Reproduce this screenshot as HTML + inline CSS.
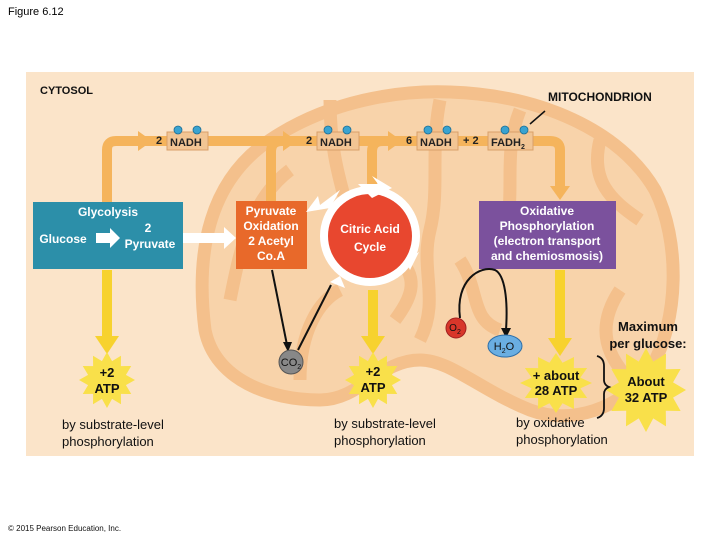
<!DOCTYPE html>
<html><head><meta charset="utf-8"><style>
body{margin:0;background:#fff;width:720px;height:540px;overflow:hidden}
svg{display:block}
text{font-family:"Liberation Sans",Arial,sans-serif}
</style></head><body>
<svg width="720" height="540" viewBox="0 0 720 540">
<text x="8" y="15" font-size="11">Figure 6.12</text>
<rect x="26" y="72" width="668" height="384" fill="#fbe4c9"/>
<g fill="none" stroke="#f4c08c" stroke-width="13" stroke-linejoin="round">
<path d="M205 330 C195 250 210 180 270 140 C330 100 400 90 450 92 C540 95 620 130 655 190 C680 240 680 320 650 370 C620 410 570 425 530 410 C480 390 450 360 420 360 C380 360 360 400 320 400 C270 400 215 380 205 330 Z" fill="#f8d3aa"/>
<path d="M230 300 C240 250 250 200 290 170"/>
<path d="M300 380 C300 330 320 300 340 290"/>
<path d="M330 100 C330 150 340 180 345 200"/>
<path d="M440 100 C430 150 440 190 430 230 C420 270 440 300 420 340"/>
<path d="M520 110 C500 160 520 200 500 250"/>
<path d="M600 140 C590 180 610 200 640 220"/>
<path d="M620 290 C600 320 600 350 630 380"/>
<path d="M460 260 C480 290 470 320 500 330"/>
<path d="M395 320 C410 300 420 280 400 260"/>
</g>
<text x="40" y="94" font-size="11" font-weight="bold" fill="#111">CYTOSOL</text>
<text x="548" y="101" font-size="12" font-weight="bold" fill="#111">MITOCHONDRION</text>
<line x1="530" y1="124" x2="545" y2="111" stroke="#111" stroke-width="1.5"/>
<g fill="none" stroke="#f5b45c" stroke-width="10" stroke-linejoin="round">
<path d="M107 205 L107 150 Q107 141 116 141 L550 141 Q560 141 560 150 L560 190"/>
<path d="M271 202 L271 152 Q271 141 282 141"/>
<path d="M372 186 L372 152 Q372 141 383 141"/>
</g>
<g fill="#f5b45c">
<polygon points="138,131 152,141 138,151"/>
<polygon points="283,131 297,141 283,151"/>
<polygon points="388,131 402,141 388,151"/>
<polygon points="550,186 570,186 560,200"/>
</g>
<g fill="#f2c594" stroke="#d9a06a">
<rect x="167" y="132" width="41" height="18"/>
<rect x="317" y="132" width="42" height="18"/>
<rect x="417" y="132" width="41" height="18"/>
<rect x="488" y="132" width="45" height="18"/>
</g>
<g fill="#3aa3d0" stroke="#1d6e94" stroke-width="0.8">
<circle cx="178" cy="130" r="4"/><circle cx="197" cy="130" r="4"/>
<circle cx="328" cy="130" r="4"/><circle cx="347" cy="130" r="4"/>
<circle cx="428" cy="130" r="4"/><circle cx="447" cy="130" r="4"/>
<circle cx="505" cy="130" r="4"/><circle cx="524" cy="130" r="4"/>
</g>
<g font-size="11" font-weight="bold" fill="#222">
<text x="156" y="144">2</text><text x="170" y="146">NADH</text>
<text x="306" y="144">2</text><text x="320" y="146">NADH</text>
<text x="406" y="144">6</text><text x="420" y="146">NADH</text>
<text x="463" y="144">+ 2</text><text x="491" y="146">FADH<tspan font-size="7" dy="3">2</tspan></text>
</g>
<g fill="#f7d22e">
<rect x="102" y="270" width="10" height="68"/><polygon points="95,336 119,336 107,354"/>
<rect x="368" y="290" width="10" height="48"/><polygon points="361,336 385,336 373,354"/>
<rect x="555" y="270" width="10" height="70"/><polygon points="548,338 572,338 560,356"/>
</g>
<g fill="#f9e04a">
<polygon transform="translate(107,380) scale(28,28)" points="1,0 .676,.181 .866,.5 .495,.495 .5,.866 .181,.676 0,1 -.181,.676 -.5,.866 -.495,.495 -.866,.5 -.676,.181 -1,0 -.676,-.181 -.866,-.5 -.495,-.495 -.5,-.866 -.181,-.676 0,-1 .181,-.676 .5,-.866 .495,-.495 .866,-.5 .676,-.181"/>
<polygon transform="translate(373,380) scale(28,28)" points="1,0 .676,.181 .866,.5 .495,.495 .5,.866 .181,.676 0,1 -.181,.676 -.5,.866 -.495,.495 -.866,.5 -.676,.181 -1,0 -.676,-.181 -.866,-.5 -.495,-.495 -.5,-.866 -.181,-.676 0,-1 .181,-.676 .5,-.866 .495,-.495 .866,-.5 .676,-.181"/>
<polygon transform="translate(556,383) scale(36,30)" points="1,0 .676,.181 .866,.5 .495,.495 .5,.866 .181,.676 0,1 -.181,.676 -.5,.866 -.495,.495 -.866,.5 -.676,.181 -1,0 -.676,-.181 -.866,-.5 -.495,-.495 -.5,-.866 -.181,-.676 0,-1 .181,-.676 .5,-.866 .495,-.495 .866,-.5 .676,-.181"/>
<polygon transform="translate(646,390) scale(40,42)" points="1,0 .676,.181 .866,.5 .495,.495 .5,.866 .181,.676 0,1 -.181,.676 -.5,.866 -.495,.495 -.866,.5 -.676,.181 -1,0 -.676,-.181 -.866,-.5 -.495,-.495 -.5,-.866 -.181,-.676 0,-1 .181,-.676 .5,-.866 .495,-.495 .866,-.5 .676,-.181"/>
</g>
<rect x="33" y="202" width="150" height="67" fill="#2c8fa9"/>
<rect x="236" y="201" width="71" height="68" fill="#e8692a"/>
<rect x="479" y="201" width="137" height="68" fill="#7b519d"/>
<polygon points="96,233 110,233 110,228 120,238 110,248 110,243 96,243" fill="#fff"/>
<polygon points="183,233 224,233 224,227 236,238 224,249 224,243 183,243" fill="#fff"/>
<circle cx="370" cy="236" r="50" fill="#fff"/>
<circle cx="370" cy="236" r="42" fill="#e8472f"/>
<polygon points="306,212 318,196 320,205 340,190 330,208" fill="#fff"/>
<polygon points="358,184 378,184 372,176 392,188 372,198" fill="#fff"/>
<polygon points="419,252 410,270 405,260" fill="#fff"/>
<polygon points="345,288 330,282 340,276" fill="#fff"/>
<g fill="#fff" font-weight="bold" text-anchor="middle">
<text x="108" y="216" font-size="12">Glycolysis</text>
<text x="148" y="232" font-size="12">2</text>
<text x="63" y="243" font-size="12">Glucose</text>
<text x="150" y="248" font-size="12">Pyruvate</text>
<text x="271" y="215" font-size="12">Pyruvate</text>
<text x="271" y="230" font-size="12">Oxidation</text>
<text x="271" y="245" font-size="12">2 Acetyl</text>
<text x="271" y="260" font-size="12">Co.A</text>
<text x="370" y="233" font-size="12">Citric Acid</text>
<text x="370" y="251" font-size="12">Cycle</text>
<text x="547" y="215" font-size="12">Oxidative</text>
<text x="547" y="230" font-size="12">Phosphorylation</text>
<text x="547" y="245" font-size="12">(electron transport</text>
<text x="547" y="260" font-size="12">and chemiosmosis)</text>
</g>
<g fill="none" stroke="#111" stroke-width="2">
<path d="M272 270 L287 345"/>
<path d="M331 285 L298 350"/>
<path d="M460 318 C455 280 480 265 495 270 C505 275 508 300 506 330"/>
</g>
<polygon points="283,342 292,342 288,352" fill="#111"/>
<polygon points="501,328 511,328 506,338" fill="#111"/>
<circle cx="291" cy="362" r="12" fill="#888" stroke="#555"/>
<text x="291" y="366" font-size="11" text-anchor="middle" fill="#111">CO<tspan font-size="7" dy="3">2</tspan></text>
<circle cx="456" cy="328" r="10" fill="#d8362a" stroke="#a02020"/>
<text x="455" y="331" font-size="10" text-anchor="middle" fill="#111">O<tspan font-size="7" dy="3">2</tspan></text>
<ellipse cx="505" cy="346" rx="17" ry="11" fill="#6aaee2" stroke="#2d6ea8"/>
<text x="504" y="350" font-size="11" text-anchor="middle" fill="#111">H<tspan font-size="7" dy="3">2</tspan><tspan dy="-3">O</tspan></text>
<g font-size="13" font-weight="bold" fill="#111" text-anchor="middle">
<text x="107" y="377">+2</text><text x="107" y="393">ATP</text>
<text x="373" y="376">+2</text><text x="373" y="392">ATP</text>
<text x="556" y="380">+ about</text><text x="556" y="395">28 ATP</text>
<text x="646" y="386">About</text><text x="646" y="402">32 ATP</text>
<text x="648" y="331">Maximum</text><text x="648" y="348">per glucose:</text>
</g>
<path d="M597 356 Q604 358 604 366 L604 380 Q604 385 609 387 Q604 389 604 394 L604 408 Q604 416 597 418" fill="none" stroke="#111" stroke-width="1.8"/>
<g font-size="13" fill="#111">
<text x="62" y="429">by substrate-level</text><text x="62" y="446">phosphorylation</text>
<text x="334" y="428">by substrate-level</text><text x="334" y="445">phosphorylation</text>
<text x="516" y="427">by oxidative</text><text x="516" y="444">phosphorylation</text>
</g>
<text x="8" y="531" font-size="8" fill="#111">© 2015 Pearson Education, Inc.</text>
</svg>
</body></html>
